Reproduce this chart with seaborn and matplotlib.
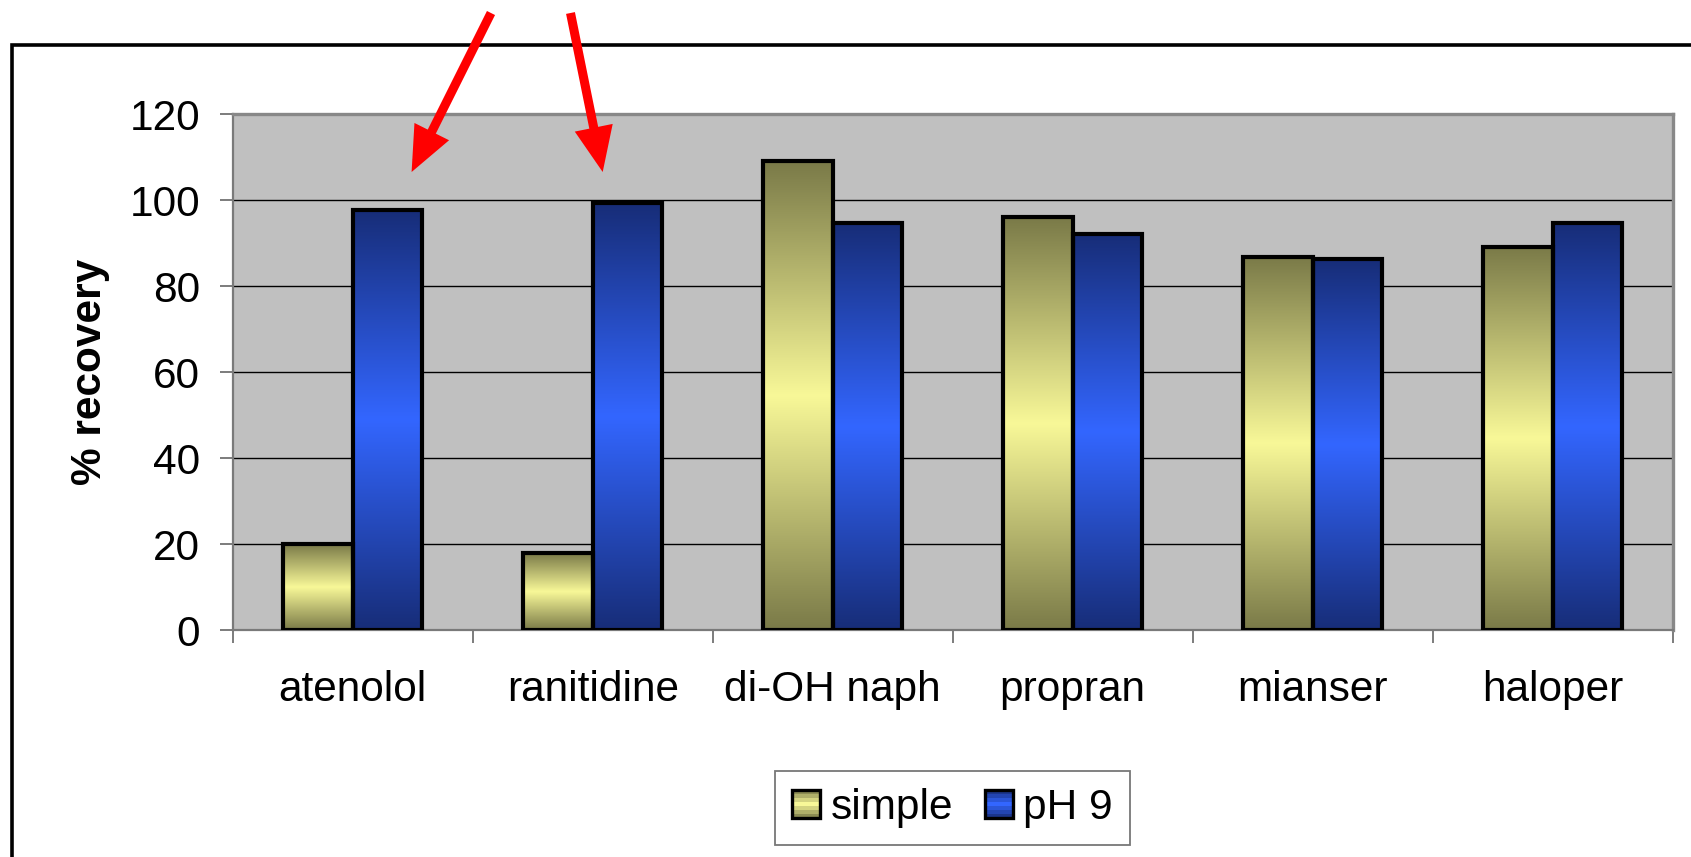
import numpy as np
import pandas as pd
import matplotlib
matplotlib.use("Agg")
import matplotlib.pyplot as plt
import seaborn as sns
from matplotlib.patches import Rectangle, FancyArrowPatch, ArrowStyle
from matplotlib.colors import LinearSegmentedColormap
from matplotlib.legend_handler import HandlerBase

# ---- data ----
compounds = ["atenolol", "ranitidine", "di-OH naph", "propran", "mianser", "haloper"]
simple_vals = [20, 17.8, 109, 96, 86.8, 89.1]
ph9_vals = [97.7, 99.2, 94.6, 92.2, 86.2, 94.6]
series = ["simple", "pH 9"]
y_ticks = [0, 20, 40, 60, 80, 100, 120]

df = pd.DataFrame({
    "compound": compounds * 2,
    "condition": [series[0]] * len(compounds) + [series[1]] * len(compounds),
    "value": simple_vals + ph9_vals,
})

grad = {
    "simple": ("#7a7a48", "#f8f898"),
    "pH 9": ("#172d78", "#3366ff"),
}

sns.set_theme(style="white")
plt.rcParams["font.family"] = ["Liberation Sans", "DejaVu Sans"]
plt.rcParams["text.color"] = "black"
plt.rcParams["axes.labelcolor"] = "black"
plt.rcParams["xtick.color"] = "black"
plt.rcParams["ytick.color"] = "black"

fig = plt.figure(figsize=(16.91, 8.57), dpi=100)
ax = fig.add_axes([232.7 / 1691, 1 - 630 / 857, (1672.7 - 232.7) / 1691, (630 - 114) / 857])
ax.set_facecolor("#c0c0c0")

sns.barplot(data=df, x="compound", y="value", hue="condition", order=compounds,
            hue_order=series, palette={"simple": "#c8c870", "pH 9": "#2a50c8"},
            width=0.58, dodge=True, edgecolor="black", linewidth=3.0,
            legend=False, ax=ax)

ax.set_xlim(-0.5, 5.5)
ax.set_ylim(0, 120)

# gradient fills on each bar
def cmap_for(name):
    dark, light = grad[name]
    return LinearSegmentedColormap.from_list(name, [dark, light, dark])

bars = [p for p in ax.patches if isinstance(p, Rectangle) and p.get_height() > 0]
n = len(compounds)
for i, bar in enumerate(bars):
    name = series[0] if i < n else series[1]
    x0, y0 = bar.get_x(), bar.get_y()
    w, h = bar.get_width(), bar.get_height()
    g = np.linspace(0, 1, 256).reshape(-1, 1)
    ax.imshow(g, cmap=cmap_for(name), extent=[x0, x0 + w, y0, y0 + h],
              aspect="auto", origin="lower", zorder=2.5, interpolation="bilinear")
    bar.set_facecolor("none")
    bar.set_edgecolor("black")
    bar.set_linewidth(3.0)
    bar.set_zorder(3)
ax.set_xlim(-0.5, 5.5)
ax.set_ylim(0, 120)

# grid
ax.set_yticks(y_ticks)
for v in y_ticks[1:-1]:
    ax.axhline(v, color="#000000", lw=1.0, zorder=1)

# spines
for s in ["left", "bottom"]:
    ax.spines[s].set_color("#7a7a7a")
    ax.spines[s].set_linewidth(1.6)
for s in ["top", "right"]:
    ax.spines[s].set_color("#888888")
    ax.spines[s].set_linewidth(2.4)

# ticks
ax.set_xticks(range(len(compounds)))
ax.set_xticklabels(compounds)
ax.set_xticks(np.arange(-0.5, len(compounds), 1.0), minor=True)
ax.tick_params(axis="x", which="major", length=0, pad=29, labelsize=30.5, labelcolor="black")
ax.tick_params(axis="x", which="minor", direction="out", length=9.5, width=1.2, color="#666666", bottom=True)
ax.tick_params(axis="y", which="major", direction="out", length=9.5, width=1.2, color="#666666",
               pad=14, labelsize=30.5, left=True, labelcolor="black")
ax.set_xlabel("")
ax.set_ylabel("% recovery", fontsize=30.5, fontweight="bold", labelpad=14, color="black")

# legend with gradient-striped handles
class GradHandler(HandlerBase):
    def __init__(self, name):
        super().__init__()
        self.name = name
    def create_artists(self, legend, orig_handle, xdescent, ydescent, width, height, fontsize, trans):
        side = min(width, height)
        x0 = -xdescent + (width - side) / 2
        y0 = -ydescent + (height - side) / 2
        cm = cmap_for(self.name)
        arts = []
        k = 7
        for j in range(k):
            c = cm((j + 0.5) / k)
            arts.append(Rectangle((x0, y0 + side * j / k), side, side / k, facecolor=c,
                                  edgecolor="none", transform=trans))
        arts.append(Rectangle((x0, y0), side, side, facecolor="none", edgecolor="black",
                              lw=2.4, transform=trans))
        return arts

proxies = [Rectangle((0, 0), 1, 1) for _ in series]
leg = fig.legend(proxies, series, loc="center", bbox_to_anchor=(952.5 / 1691, 1 - 808 / 857),
                 ncol=2, fontsize=30.5, frameon=True, fancybox=False, edgecolor="#555555",
                 handlelength=0.66, handleheight=0.66, handletextpad=0.25, columnspacing=0.75,
                 borderpad=0.4, borderaxespad=0, labelcolor="black",
                 handler_map={proxies[0]: GradHandler("simple"), proxies[1]: GradHandler("pH 9")})
leg.get_frame().set_linewidth(1.3)

# outer border (cut by the image edges)
fig.patches.append(Rectangle((11.7 / 1691, -0.2), 1.2, 0.2 + 1 - 45.3 / 857, fill=False,
                             edgecolor="black", lw=2.6, transform=fig.transFigure, figure=fig))

# red annotation arrows
def fig_pt(px, py):
    return (px / 1691, 1 - py / 857)

for (sx, sy), (ex, ey) in [((491, 13), (411.6, 172)), ((570.5, 13), (602.7, 172))]:
    arr = FancyArrowPatch(fig_pt(sx, sy), fig_pt(ex, ey), transform=fig.transFigure,
                          arrowstyle=ArrowStyle("-|>", head_length=21, head_width=9),
                          mutation_scale=1, color="#ff0000", lw=6.5,
                          shrinkA=0, shrinkB=0, figure=fig, joinstyle="miter", capstyle="butt")
    fig.patches.append(arr)

fig.savefig("out.png", dpi=100)
